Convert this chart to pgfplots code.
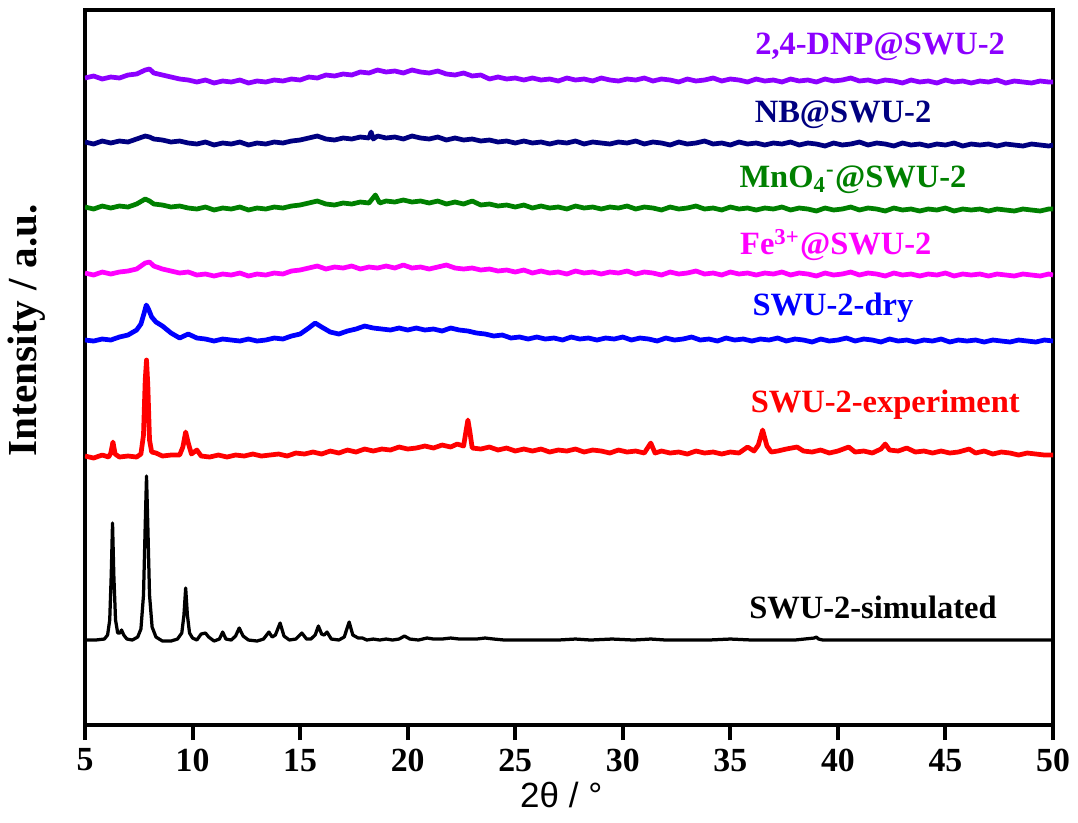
\documentclass[border=0pt]{standalone}
\usepackage{pgfplots}
\pgfplotsset{compat=1.18}
\usepackage{fontspec}
\setmainfont{Liberation Serif}
\newfontfamily\arialfont{Liberation Sans}

\definecolor{cpurple}{RGB}{140,0,255}
\definecolor{cnavy}{RGB}{0,0,128}
\definecolor{cgreen}{RGB}{0,128,0}
\definecolor{cmagenta}{RGB}{255,0,255}
\definecolor{cblue}{RGB}{0,0,255}
\definecolor{cred}{RGB}{255,0,0}

\begin{document}
\begin{tikzpicture}
\begin{axis}[
    scale only axis,
    width=387.2pt, height=286pt,
    xmin=5, xmax=50, ymin=0, ymax=715,
    xtick={5,10,15,20,25,30,35,40,45,50},
    ytick=\empty,
    xtick pos=bottom,
    tick align=outside,
    major tick length=6pt,
    axis line style={line width=1.6pt},
    tick style={line width=1.6pt, black},
    /pgf/number format/assume math mode=true,
    ticklabel style={font=\fontsize{13.5}{16}\bfseries\selectfont},
    xlabel={2θ / °},
    xlabel style={font=\arialfont\fontsize{14}{16}\selectfont,
        at={(axis description cs:0.492,-0.098)}, anchor=center},
    ylabel={Intensity / a.u.},
    ylabel style={font=\fontsize{16.5}{19}\bfseries\selectfont,
        at={(axis description cs:-0.06,0.552)}, anchor=center},
    every axis plot/.append style={line join=round, no markers},
]

% SWU-2-simulated
\addplot[black, line width=1.3pt] coordinates {
(5.0,85)(5.5,85)(5.9,86)(6.05,90)(6.15,105)(6.22,150)(6.28,202)(6.34,150)(6.42,105)
(6.52,92)(6.62,92)(6.7,95)(6.8,90)(6.95,86)(7.2,85)(7.45,88)(7.6,96)(7.72,130)
(7.8,200)(7.86,249)(7.92,200)(8.0,130)(8.12,98)(8.3,88)(8.6,84)(9.0,84)(9.3,86)
(9.5,92)(9.6,110)(9.68,137)(9.76,110)(9.86,92)(10.0,87)(10.2,85)(10.4,91)(10.6,92)
(10.75,88)(11.0,84)(11.25,86)(11.4,93)(11.55,86)(11.8,85)(12.0,89)(12.17,97)
(12.35,89)(12.6,85)(13.0,84)(13.3,86)(13.55,93)(13.7,88)(13.85,90)(14.07,102)
(14.25,89)(14.5,85)(14.8,86)(15.08,92)(15.3,86)(15.5,86)(15.7,90)(15.85,99)(16.0,91)
(16.12,90)(16.25,93)(16.45,86)(16.8,85)(17.05,88)(17.28,103)(17.45,90)(17.7,87)
(17.9,87)(18.1,85)(18.4,86)(18.7,85)(19.0,86)(19.3,85)(19.6,86)(19.85,89)(20.1,86)
(20.5,85)(20.9,87)(21.2,86)(21.6,86)(22.0,87)(22.4,86)(22.8,86)(23.2,86)(23.6,87)
(24.0,86)(24.5,85)(25,85)(26,85)(27,85)(27.8,86)(28.5,85)(29.5,86)(30.5,85)
(31.3,86)(32,85)(33,85)(34,85)(35,86)(36,85)(37,85)(38,85)(38.9,87)(39.0,88)(39.1,86)(39.3,85)(40,85)
(42,85)(44,85)(46,85)(48,85)(50,85)
};

% SWU-2-experiment
\addplot[cred, line width=1.9pt] coordinates {
(5.0,269)(5.4,267)(5.8,270)(6.1,268)(6.2,272)(6.3,283)(6.4,271)(6.6,268)(7.0,269)
(7.4,268)(7.6,271)(7.72,290)(7.8,345)(7.86,365)(7.92,340)(8.0,285)(8.1,273)(8.3,272)
(8.6,269)(9.0,270)(9.4,270)(9.55,278)(9.68,293)(9.8,282)(9.95,271)(10.2,275)(10.4,269)
(10.8,268)(11.2,270)(11.6,268)(12.0,270)(12.4,269)(12.8,271)(13.2,269)(13.6,270)
(14.0,271)(14.4,269)(14.8,272)(15.2,271)(15.6,273)(16.0,271)(16.4,274)(16.8,272)
(17.2,275)(17.6,273)(18.0,276)(18.4,274)(18.8,276)(19.2,275)(19.6,278)(20.0,276)
(20.4,277)(20.8,279)(21.2,277)(21.6,280)(22.0,278)(22.3,281)(22.6,279)(22.72,295)
(22.8,305)(22.9,292)(23.0,277)(23.4,276)(23.8,278)(24.2,275)(24.6,277)(25.0,274)
(25.4,276)(25.8,274)(26.2,276)(26.6,273)(27.0,275)(27.4,274)(27.8,276)(28.2,273)
(28.6,275)(29.0,274)(29.4,272)(29.8,275)(30.2,273)(30.6,274)(31.0,272)(31.3,282)
(31.5,272)(31.8,274)(32.2,272)(32.6,273)(33.0,271)(33.4,274)(33.8,272)(34.2,273)
(34.6,271)(35.0,273)(35.4,272)(35.8,278)(36.1,274)(36.3,280)(36.5,295)(36.7,279)
(36.9,273)(37.2,274)(37.6,276)(38.1,278)(38.4,274)(38.8,273)(39.2,275)(39.6,272)
(40.0,274)(40.5,278)(40.8,273)(41.2,274)(41.6,272)(42.0,276)(42.2,281)(42.4,275)
(42.8,274)(43.2,277)(43.6,273)(44.0,274)(44.4,272)(44.8,274)(45.2,272)(45.6,273)
(46.1,276)(46.4,272)(46.8,274)(47.2,271)(47.6,273)(48.0,272)(48.4,270)(48.8,272)
(49.2,271)(49.6,270)(50.0,270)
};

% SWU-2-dry
\addplot[cblue, line width=1.9pt] coordinates {
(5.0,385)(5.4,384)(5.8,386)(6.2,385)(6.6,388)(7.0,390)(7.4,395)(7.6,401)(7.75,412)
(7.85,420)(7.95,416)(8.1,408)(8.3,403)(8.6,399)(9.0,392)(9.4,387)(9.8,391)(10.2,387)
(10.6,386)(11.0,384)(11.4,386)(11.8,385)(12.2,384)(12.6,386)(13.0,384)(13.4,385)
(13.8,387)(14.2,386)(14.6,389)(15.0,391)(15.4,397)(15.7,402)(16.0,398)(16.4,393)
(16.8,391)(17.2,394)(17.6,396)(18.0,399)(18.4,397)(18.8,396)(19.2,395)(19.6,397)
(20.0,395)(20.4,397)(20.8,395)(21.2,396)(21.6,394)(22.0,397)(22.4,395)(22.8,394)
(23.2,392)(23.6,391)(24.0,389)(24.4,390)(24.8,387)(25.2,388)(25.6,386)(26.0,388)
(26.4,386)(26.8,387)(27.2,385)(27.6,388)(28.0,386)(28.4,387)(28.8,385)(29.2,387)
(29.6,386)(30.0,388)(30.4,385)(30.8,387)(31.2,386)(31.6,384)(32.0,387)(32.4,385)
(32.8,386)(33.2,388)(33.6,385)(34.0,386)(34.4,384)(34.8,387)(35.2,385)(35.6,386)
(36.0,384)(36.4,386)(36.8,385)(37.2,387)(37.6,384)(38.0,386)(38.4,385)(38.8,383)
(39.2,386)(39.6,384)(40.0,385)(40.4,387)(40.8,384)(41.2,386)(41.6,385)(42.0,383)
(42.4,386)(42.8,384)(43.2,385)(43.6,383)(44.0,385)(44.4,384)(44.8,386)(45.2,383)
(45.6,385)(46.0,384)(46.4,385)(46.8,383)(47.2,385)(47.6,384)(48.0,383)(48.4,385)
(48.8,384)(49.2,383)(49.6,385)(50.0,384)
};

% Fe3+@SWU-2
\addplot[cmagenta, line width=1.9pt] coordinates {
(5.0,452)(5.4,450)(5.8,453)(6.2,451)(6.6,453)(7.0,454)(7.4,456)(7.8,462)(8.0,463)
(8.2,459)(8.6,456)(9.0,454)(9.4,452)(9.8,453)(10.2,450)(10.6,451)(11.0,449)(11.4,451)
(11.8,450)(12.2,452)(12.6,449)(13.0,451)(13.4,450)(13.8,452)(14.2,451)(14.6,454)
(15.0,455)(15.4,457)(15.8,459)(16.2,456)(16.6,458)(17.0,457)(17.4,459)(17.8,456)
(18.2,458)(18.6,457)(19.0,459)(19.4,457)(19.8,460)(20.2,457)(20.6,458)(21.0,456)
(21.4,458)(21.8,460)(22.2,457)(22.6,456)(23.0,457)(23.4,455)(23.8,456)(24.2,454)
(24.6,455)(25.0,453)(25.4,455)(25.8,452)(26.2,454)(26.6,452)(27.0,453)(27.4,451)
(27.8,454)(28.2,452)(28.6,453)(29.0,451)(29.4,453)(29.8,452)(30.2,454)(30.6,451)
(31.0,453)(31.4,452)(31.8,450)(32.2,453)(32.6,451)(33.0,452)(33.4,454)(33.8,451)
(34.2,452)(34.6,450)(35.0,453)(35.4,451)(35.8,452)(36.2,450)(36.6,452)(37.0,451)
(37.4,453)(37.8,450)(38.2,452)(38.6,451)(39.0,449)(39.4,452)(39.8,450)(40.2,451)
(40.6,453)(41.0,450)(41.4,452)(41.8,451)(42.2,449)(42.6,452)(43.0,450)(43.4,451)
(43.8,449)(44.2,451)(44.6,450)(45.0,452)(45.4,449)(45.8,451)(46.2,450)(46.6,451)
(47.0,449)(47.4,451)(47.8,450)(48.2,449)(48.6,451)(49.0,450)(49.4,449)(49.8,451)
(50.0,450)
};

% MnO4-@SWU-2
\addplot[cgreen, line width=1.9pt] coordinates {
(5.0,518)(5.4,516)(5.8,519)(6.2,517)(6.6,519)(7.0,518)(7.4,521)(7.8,526)(8.0,524)
(8.2,521)(8.6,520)(9.0,518)(9.4,519)(9.8,517)(10.2,516)(10.6,518)(11.0,515)(11.4,517)
(11.8,516)(12.2,518)(12.6,515)(13.0,517)(13.4,516)(13.8,518)(14.2,517)(14.6,519)
(15.0,520)(15.4,522)(15.8,524)(16.2,521)(16.6,520)(17.0,522)(17.4,521)(17.8,523)
(18.2,522)(18.5,530)(18.7,522)(19.0,524)(19.4,523)(19.8,525)(20.2,523)(20.6,524)
(21.0,522)(21.4,524)(21.8,521)(22.2,523)(22.6,521)(23.0,524)(23.4,520)(23.8,521)
(24.2,519)(24.6,520)(25.0,518)(25.4,520)(25.8,517)(26.2,519)(26.6,517)(27.0,518)
(27.4,516)(27.8,519)(28.2,517)(28.6,518)(29.0,516)(29.4,518)(29.8,517)(30.2,519)
(30.6,516)(31.0,518)(31.4,517)(31.8,515)(32.2,518)(32.6,516)(33.0,517)(33.4,519)
(33.8,516)(34.2,517)(34.6,515)(35.0,518)(35.4,516)(35.8,517)(36.2,515)(36.6,517)
(37.0,516)(37.4,518)(37.8,515)(38.2,517)(38.6,516)(39.0,514)(39.4,517)(39.8,515)
(40.2,516)(40.6,518)(41.0,515)(41.4,517)(41.8,516)(42.2,514)(42.6,517)(43.0,515)
(43.4,516)(43.8,514)(44.2,516)(44.6,515)(45.0,517)(45.4,514)(45.8,516)(46.2,515)
(46.6,516)(47.0,514)(47.4,516)(47.8,515)(48.2,514)(48.6,516)(49.0,515)(49.4,514)
(49.8,516)(50.0,516)
};

% NB@SWU-2
\addplot[cnavy, line width=1.9pt] coordinates {
(5.0,583)(5.4,581)(5.8,584)(6.2,582)(6.6,584)(7.0,583)(7.4,586)(7.8,589)(8.0,588)
(8.2,586)(8.6,585)(9.0,583)(9.4,584)(9.8,582)(10.2,581)(10.6,583)(11.0,580)(11.4,582)
(11.8,581)(12.2,583)(12.6,580)(13.0,582)(13.4,581)(13.8,583)(14.2,582)(14.6,584)
(15.0,585)(15.4,587)(15.8,589)(16.2,586)(16.6,585)(17.0,587)(17.4,586)(17.8,588)
(18.2,587)(18.3,593)(18.4,586)(18.6,589)(19.0,587)(19.4,588)(19.8,586)(20.2,589)
(20.6,587)(21.0,586)(21.4,588)(21.8,585)(22.2,587)(22.6,585)(23.0,586)(23.4,584)
(23.8,585)(24.2,583)(24.6,584)(25.0,582)(25.4,584)(25.8,582)(26.2,583)(26.6,581)
(27.0,583)(27.4,582)(27.8,584)(28.2,581)(28.6,583)(29.0,582)(29.4,581)(29.8,583)
(30.2,582)(30.6,584)(31.0,581)(31.4,583)(31.8,582)(32.2,580)(32.6,583)(33.0,581)
(33.4,582)(33.8,584)(34.2,581)(34.6,582)(35.0,580)(35.4,583)(35.8,581)(36.2,582)
(36.6,580)(37.0,582)(37.4,581)(37.8,583)(38.2,580)(38.6,582)(39.0,581)(39.4,579)
(39.8,582)(40.2,580)(40.6,581)(41.0,583)(41.4,580)(41.8,582)(42.2,581)(42.6,579)
(43.0,582)(43.4,580)(43.8,581)(44.2,579)(44.6,581)(45.0,580)(45.4,582)(45.8,579)
(46.2,581)(46.6,580)(47.0,581)(47.4,579)(47.8,581)(48.2,580)(48.6,579)(49.0,581)
(49.4,580)(49.8,579)(50.0,580)
};

% 2,4-DNP@SWU-2
\addplot[cpurple, line width=1.9pt] coordinates {
(5.0,647)(5.4,649)(5.8,646)(6.2,648)(6.6,647)(7.0,650)(7.4,651)(7.8,655)(8.0,656)
(8.2,652)(8.6,650)(9.0,648)(9.4,646)(9.8,645)(10.2,643)(10.6,645)(11.0,642)(11.4,644)
(11.8,643)(12.2,645)(12.6,642)(13.0,644)(13.4,643)(13.8,645)(14.2,644)(14.6,646)
(15.0,645)(15.4,648)(15.8,647)(16.2,650)(16.6,649)(17.0,651)(17.4,650)(17.8,653)
(18.2,652)(18.6,655)(19.0,653)(19.4,654)(19.8,652)(20.2,655)(20.6,653)(21.0,652)
(21.4,654)(21.8,651)(22.2,650)(22.6,652)(23.0,649)(23.4,650)(23.8,646)(24.2,648)
(24.6,646)(25.0,647)(25.4,645)(25.8,647)(26.2,645)(26.6,646)(27.0,644)(27.4,647)
(27.8,645)(28.2,646)(28.6,644)(29.0,647)(29.4,645)(29.8,644)(30.2,646)(30.6,645)
(31.0,647)(31.4,644)(31.8,646)(32.2,645)(32.6,643)(33.0,646)(33.4,644)(33.8,645)
(34.2,647)(34.6,644)(35.0,646)(35.4,645)(35.8,643)(36.2,646)(36.6,644)(37.0,645)
(37.4,643)(37.8,646)(38.2,644)(38.6,645)(39.0,643)(39.4,646)(39.8,644)(40.2,645)
(40.6,647)(41.0,644)(41.4,645)(41.8,643)(42.2,645)(42.6,644)(43.0,642)(43.4,645)
(43.8,643)(44.2,644)(44.6,642)(45.0,645)(45.4,643)(45.8,644)(46.2,642)(46.6,644)
(47.0,643)(47.4,645)(47.8,642)(48.2,644)(48.6,643)(49.0,642)(49.4,644)(49.8,643)
(50.0,643)
};

\begin{scope}[every node/.style={font=\fontsize{13}{15}\bfseries\selectfont, anchor=center}]
\node[text=cpurple]  at (axis cs:41.96,678) {2,4-DNP@SWU-2};
\node[text=cnavy]    at (axis cs:40.24,610) {NB@SWU-2};
\node[text=cgreen]   at (axis cs:40.70,545) {MnO\textsubscript{4}\textsuperscript{-}@SWU-2};
\node[text=cmagenta] at (axis cs:39.90,480) {Fe\textsuperscript{3+}@SWU-2};
\node[text=cblue]    at (axis cs:39.77,417) {SWU-2-dry};
\node[text=cred]     at (axis cs:42.20,320) {SWU-2-experiment};
\node[text=black]    at (axis cs:41.63,118) {SWU-2-simulated};
\end{scope}

\coordinate (bl) at (rel axis cs:-0.0878,-0.137);
\coordinate (tr) at (rel axis cs:1.0258,1.014);
\end{axis}
\pgfresetboundingbox
\path[use as bounding box] (bl) rectangle (tr);
\end{tikzpicture}
\end{document}
